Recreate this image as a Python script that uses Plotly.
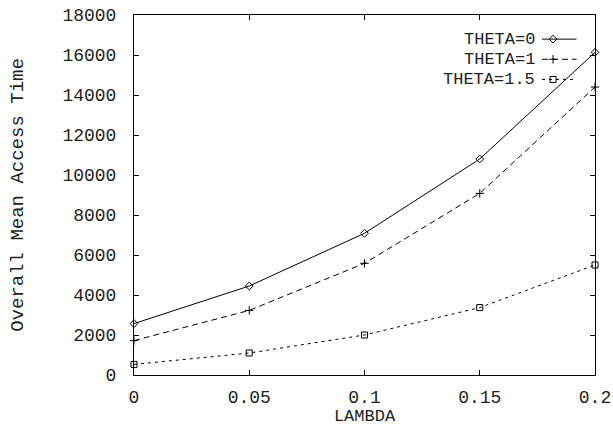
import plotly.graph_objects as go

lam = [0, 0.05, 0.1, 0.15, 0.2]
theta0 = [2570, 4450, 7085, 10800, 16130]
theta1 = [1720, 3230, 5585, 9080, 14400]
theta15 = [530, 1100, 2000, 3370, 5500]
names = ["THETA=0", "THETA=1", "THETA=1.5"]
xticks = [0, 0.05, 0.1, 0.15, 0.2]
xticklabels = ["0", "0.05", "0.1", "0.15", "0.2"]
yticks = list(range(0, 18001, 2000))
yticklabels = [str(v) for v in yticks]

FONT = "Liberation Mono"
TXT = "#222222"
series = [
    (theta0, "solid", "diamond-open", 6),
    (theta1, "6px,4px", "cross-thin-open", 6),
    (theta15, "3px,4px", "square-open", 6),
]

fig = go.Figure()
for (vals, dash, sym, ms), nm in zip(series, names):
    fig.add_trace(go.Scatter(
        x=lam, y=vals, mode="lines+markers", name=nm,
        line=dict(color="black", width=1, dash=dash),
        marker=dict(symbol=sym, size=ms, color="black", line=dict(color="black", width=1)),
        showlegend=False, cliponaxis=False,
    ))

# Manual legend (text left of sample) on an overlay axis in [0,1] coordinates
leg_y = [0.933, 0.877, 0.821]
for i, ((vals, dash, sym, ms), nm) in enumerate(zip(series, names)):
    fig.add_trace(go.Scatter(
        x=[0.885, 0.96], y=[leg_y[i]] * 2, mode="lines",
        line=dict(color="black", width=1, dash=dash),
        xaxis="x2", yaxis="y2", showlegend=False, hoverinfo="skip",
    ))
    fig.add_trace(go.Scatter(
        x=[0.909], y=[leg_y[i]], mode="markers",
        marker=dict(symbol=sym, size=ms, color="black", line=dict(color="black", width=1)),
        xaxis="x2", yaxis="y2", showlegend=False, hoverinfo="skip",
    ))
    fig.add_annotation(
        x=0.873, y=leg_y[i], xref="x2", yref="y2", text=nm, showarrow=False,
        xanchor="right", yanchor="middle", borderpad=0,
        font=dict(family=FONT, size=17, color=TXT),
    )

fig.update_layout(
    width=613, height=426,
    margin=dict(l=134, r=18, t=15, b=51),
    paper_bgcolor="white", plot_bgcolor="white",
    font=dict(family=FONT, size=18, color=TXT),
    xaxis=dict(
        range=[0, 0.2], tickvals=xticks, ticktext=xticklabels, automargin=False,
        ticks="inside", ticklen=5, tickcolor="black", mirror="allticks",
        showline=True, linecolor="black", linewidth=1, showgrid=False, zeroline=False,
        title=dict(text="LAMBDA", font=dict(family=FONT, size=17), standoff=5),
        tickfont=dict(family=FONT, size=18), ticklabelstandoff=5,
    ),
    yaxis=dict(
        range=[0, 18000], tickvals=yticks, ticktext=yticklabels, automargin=False,
        ticks="inside", ticklen=5, tickcolor="black", mirror="allticks",
        showline=True, linecolor="black", linewidth=1, showgrid=False, zeroline=False,
        title=dict(text="Overall Mean Access Time", font=dict(family=FONT, size=19), standoff=33),
        tickfont=dict(family=FONT, size=18), ticklabelstandoff=13,
    ),
    xaxis2=dict(range=[0, 1], overlaying="x", visible=False, fixedrange=True),
    yaxis2=dict(range=[0, 1], overlaying="y", visible=False, fixedrange=True),
)

fig.write_html("out.html")
